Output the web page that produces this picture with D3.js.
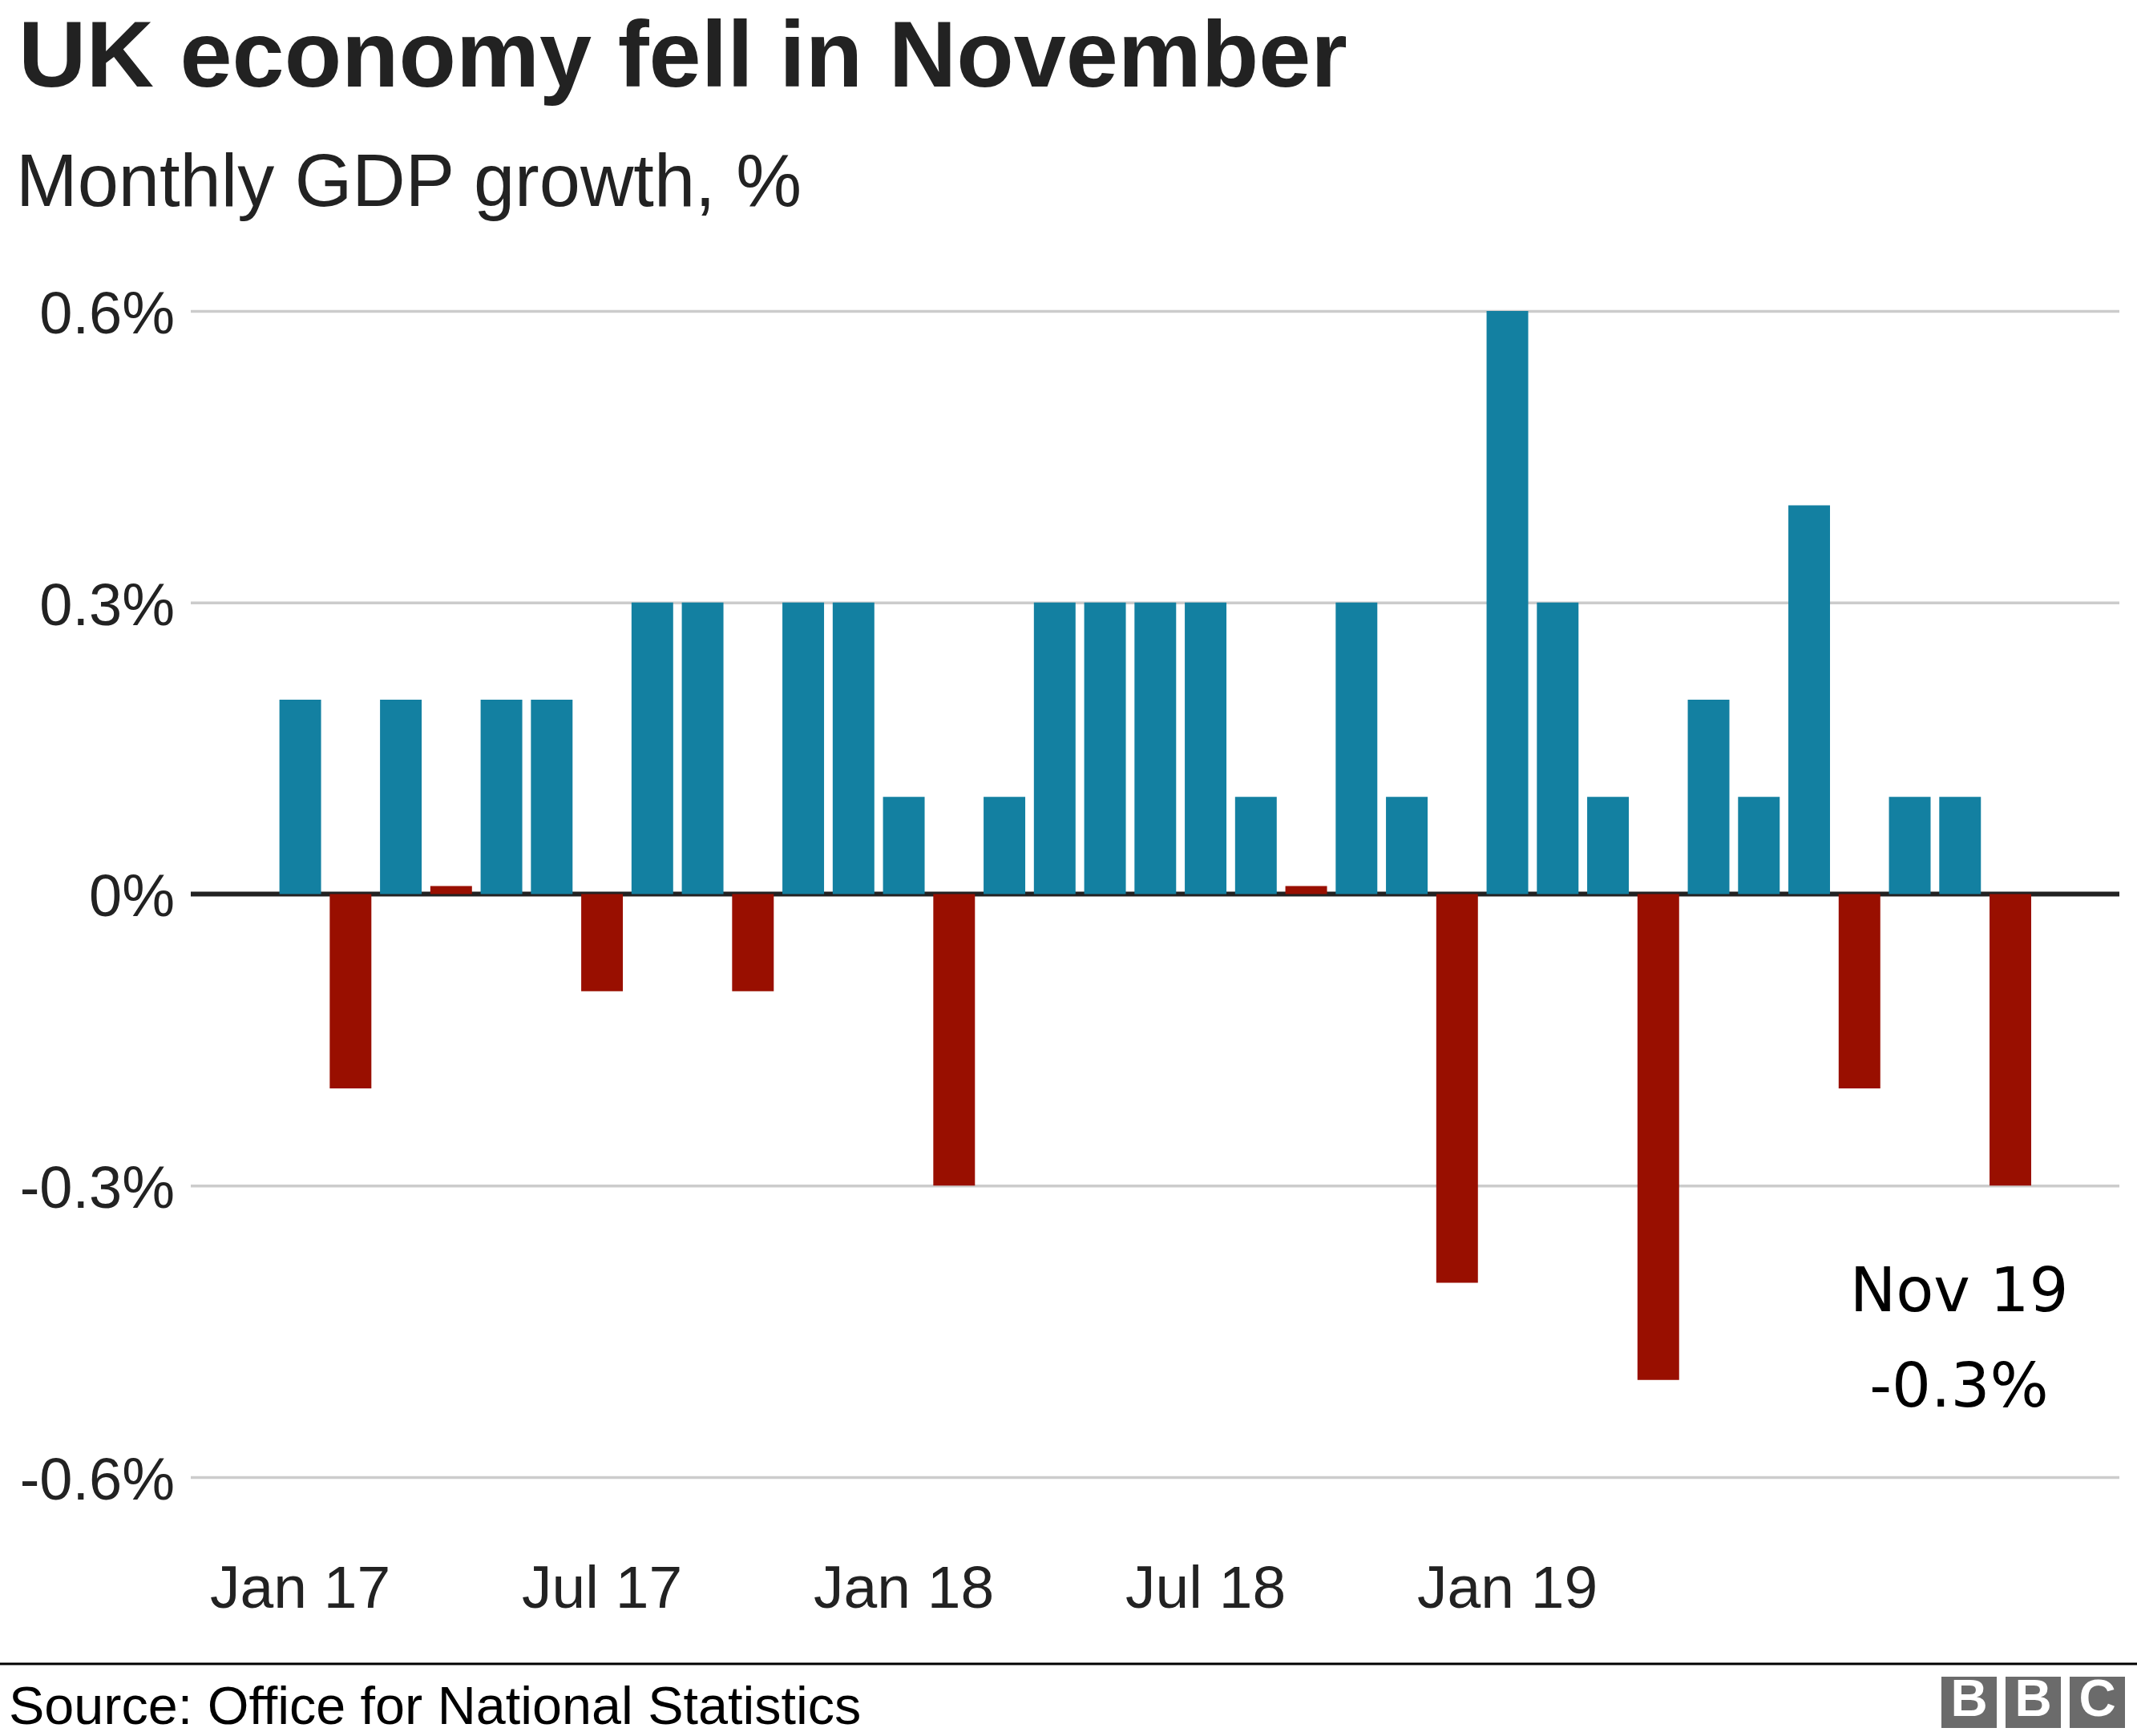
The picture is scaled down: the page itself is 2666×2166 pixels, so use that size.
<!DOCTYPE html>
<html>
<head>
<meta charset="utf-8">
<script src="https://cdn.jsdelivr.net/npm/d3@7"></script>
<style>
  html, body { margin: 0; padding: 0; background: #fff; }
  svg { display: block; }
</style>
</head>
<body>
<svg id="chart" width="2666" height="2166"></svg>
<script>
// ---- data ----
const months = [
  "Jan 17","Feb 17","Mar 17","Apr 17","May 17","Jun 17","Jul 17","Aug 17","Sep 17","Oct 17","Nov 17","Dec 17",
  "Jan 18","Feb 18","Mar 18","Apr 18","May 18","Jun 18","Jul 18","Aug 18","Sep 18","Oct 18","Nov 18","Dec 18",
  "Jan 19","Feb 19","Mar 19","Apr 19","May 19","Jun 19","Jul 19","Aug 19","Sep 19","Oct 19","Nov 19"
];
const growth = [
  0.2, -0.2, 0.2, 0.0, 0.2, 0.2, -0.1, 0.3, 0.3, -0.1, 0.3, 0.3,
  0.1, -0.3, 0.1, 0.3, 0.3, 0.3, 0.3, 0.1, 0.0, 0.3, 0.1, -0.4,
  0.6, 0.3, 0.1, -0.5, 0.2, 0.1, 0.4, -0.2, 0.1, 0.1, -0.3
];
const yTicks = [0.6, 0.3, 0, -0.3, -0.6];
const yTickLabels = ["0.6%", "0.3%", "0%", "-0.3%", "-0.6%"];
const xTickMonths = ["Jan 17", "Jul 17", "Jan 18", "Jul 18", "Jan 19"];
const titleText = "UK economy fell in November";
const subtitleText = "Monthly GDP growth, %";
const sourceText = "Source: Office for National Statistics";
const annotationLines = ["Nov 19", "-0.3%"];

// ---- styles ----
const BLUE = "#1380a1";
const RED = "#990f00";
const FONT = "'Liberation Sans', Arial, Helvetica, sans-serif";

const svg = d3.select("#chart");
svg.append("rect").attr("width", 2666).attr("height", 2166).attr("fill", "#fff");

const plotLeft = 238, plotRight = 2644;

const x = d3.scaleBand()
  .domain(months)
  .range([343.2, 2539.4])
  .paddingInner(0.172)
  .paddingOuter(0.086);

const y = d3.scaleLinear()
  .domain([-0.6, 0.6])
  .range([1843, 388]);

// title / subtitle
svg.append("text")
  .attr("x", 23).attr("y", 108)
  .attr("font-family", FONT).attr("font-weight", "bold")
  .attr("font-size", 117).attr("fill", "#222")
  .text(titleText);

svg.append("text")
  .attr("x", 20).attr("y", 257)
  .attr("font-family", FONT)
  .attr("font-size", 92).attr("fill", "#222")
  .text(subtitleText);

// y axis + gridlines
const yAxis = d3.axisLeft(y)
  .tickValues(yTicks)
  .tickSize(-(plotRight - plotLeft))
  .tickPadding(20)
  .tickFormat((d, i) => yTickLabels[i]);

const gy = svg.append("g")
  .attr("transform", `translate(${plotLeft},0)`)
  .call(yAxis);
gy.select(".domain").remove();
gy.selectAll(".tick line").attr("stroke", "#cccccc").attr("stroke-width", 3.5);
gy.selectAll(".tick text")
  .attr("font-family", FONT).attr("font-size", 74)
  .attr("fill", "#222").attr("dy", "0.37em");

// zero line
svg.append("line")
  .attr("x1", plotLeft).attr("x2", plotRight)
  .attr("y1", y(0)).attr("y2", y(0))
  .attr("stroke", "#222").attr("stroke-width", 6);

// bars
const zeroStub = 10;
svg.append("g").selectAll("rect")
  .data(months.map((m, i) => ({ m, v: growth[i] })))
  .join("rect")
  .attr("x", d => x(d.m))
  .attr("width", x.bandwidth())
  .attr("y", d => d.v > 0 ? y(d.v) : (d.v === 0 ? y(0) - zeroStub : y(0)))
  .attr("height", d => d.v === 0 ? zeroStub : Math.abs(y(d.v) - y(0)))
  .attr("fill", d => d.v > 0 ? BLUE : RED);

// x axis labels
const xAxis = d3.axisBottom(x)
  .tickValues(xTickMonths)
  .tickSize(0)
  .tickPadding(0);
const gx = svg.append("g")
  .attr("transform", "translate(0,2006)")
  .call(xAxis);
gx.select(".domain").remove();
gx.selectAll(".tick text")
  .attr("font-family", FONT).attr("font-size", 75)
  .attr("fill", "#222").attr("dy", "0").attr("y", 0);

// annotation
const last = months[months.length - 1];
const annX = x(last) + x.bandwidth() / 2 - 64;
const ann = svg.append("text")
  .attr("font-family", "'DejaVu Sans', sans-serif")
  .attr("font-size", 77).attr("fill", "#000")
  .attr("text-anchor", "middle");
ann.append("tspan").attr("x", annX).attr("y", 1636).text(annotationLines[0]);
ann.append("tspan").attr("x", annX).attr("y", 1755).text(annotationLines[1]);

// footer
svg.append("line")
  .attr("x1", 0).attr("x2", 2666)
  .attr("y1", 2076).attr("y2", 2076)
  .attr("stroke", "#000").attr("stroke-width", 3);

svg.append("text")
  .attr("x", 11).attr("y", 2151)
  .attr("font-family", FONT)
  .attr("font-size", 66.5).attr("fill", "#000")
  .text(sourceText);

// BBC logo
const logoLetters = ["B", "B", "C"];
const logo = svg.append("g");
logoLetters.forEach((L, i) => {
  const bx = 2422 + i * 80;
  logo.append("rect")
    .attr("x", bx).attr("y", 2092)
    .attr("width", 69).attr("height", 64)
    .attr("fill", "#6b6b6b");
  logo.append("text")
    .attr("x", bx + 34.5).attr("y", 2141)
    .attr("text-anchor", "middle")
    .attr("font-family", FONT).attr("font-weight", "bold")
    .attr("font-size", 64).attr("fill", "#fff")
    .text(L);
});
</script>
</body>
</html>
